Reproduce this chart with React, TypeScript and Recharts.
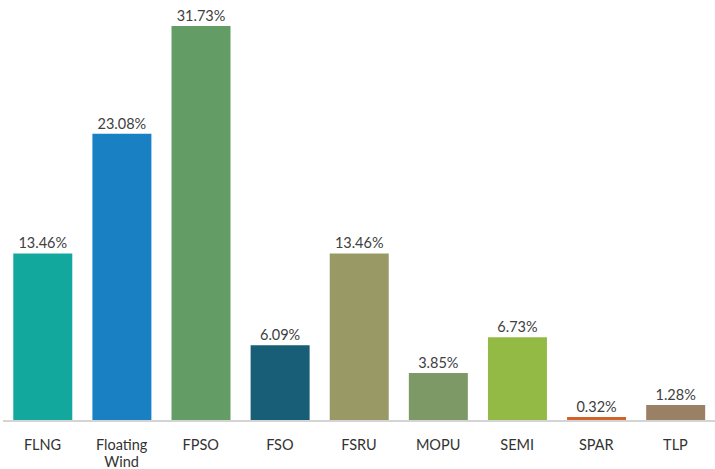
import React from 'react';
import { BarChart, Bar, XAxis, YAxis, Cell, LabelList } from 'recharts';

const categories = ['FLNG', 'Floating Wind', 'FPSO', 'FSO', 'FSRU', 'MOPU', 'SEMI', 'SPAR', 'TLP'];
const shares = [13.46, 23.08, 31.73, 6.09, 13.46, 3.85, 6.73, 0.32, 1.28];
const barColors = ['#12a89d', '#1a80c4', '#649c66', '#175e76', '#999966', '#7d9966', '#93ba44', '#d2622a', '#9a8064'];

const data = categories.map((name, i) => ({ name, share: shares[i] }));

const FONT = 'Lato, "Open Sans", sans-serif';

function WrappedTick(props: any) {
  const { x, y, payload } = props;
  const lines: string[] = String(payload.value).split(' ');
  return (
    <text x={x} y={y} textAnchor="middle" fill="#333" fontSize={14.5} fontFamily={FONT}>
      {lines.map((line, i) => (
        <tspan key={i} x={x} dy={i === 0 ? 29 : 17}>
          {line}
        </tspan>
      ))}
    </text>
  );
}

export default function App() {
  return (
    <div style={{ position: 'absolute', left: 0, top: 0, background: '#fff' }}>
      <BarChart
        width={715}
        height={469}
        data={data}
        margin={{ top: 26, right: 0, left: 3, bottom: 0 }}
        barCategoryGap="13%"
      >
        <XAxis
          dataKey="name"
          interval={0}
          height={48}
          axisLine={{ stroke: '#d4d4d4', strokeWidth: 2 }}
          tickLine={false}
          tickSize={0}
          tickMargin={0}
          tick={<WrappedTick />}
        />
        <YAxis hide domain={[0, 31.73]} />
        <Bar dataKey="share" isAnimationActive={false}>
          {data.map((d, i) => (
            <Cell key={d.name} fill={barColors[i]} />
          ))}
          <LabelList
            dataKey="share"
            position="top"
            offset={5}
            formatter={(v: any) => `${Number(v).toFixed(2)}%`}
            style={{ fill: '#404040', fontSize: 14.5, fontFamily: FONT }}
          />
        </Bar>
      </BarChart>
    </div>
  );
}
